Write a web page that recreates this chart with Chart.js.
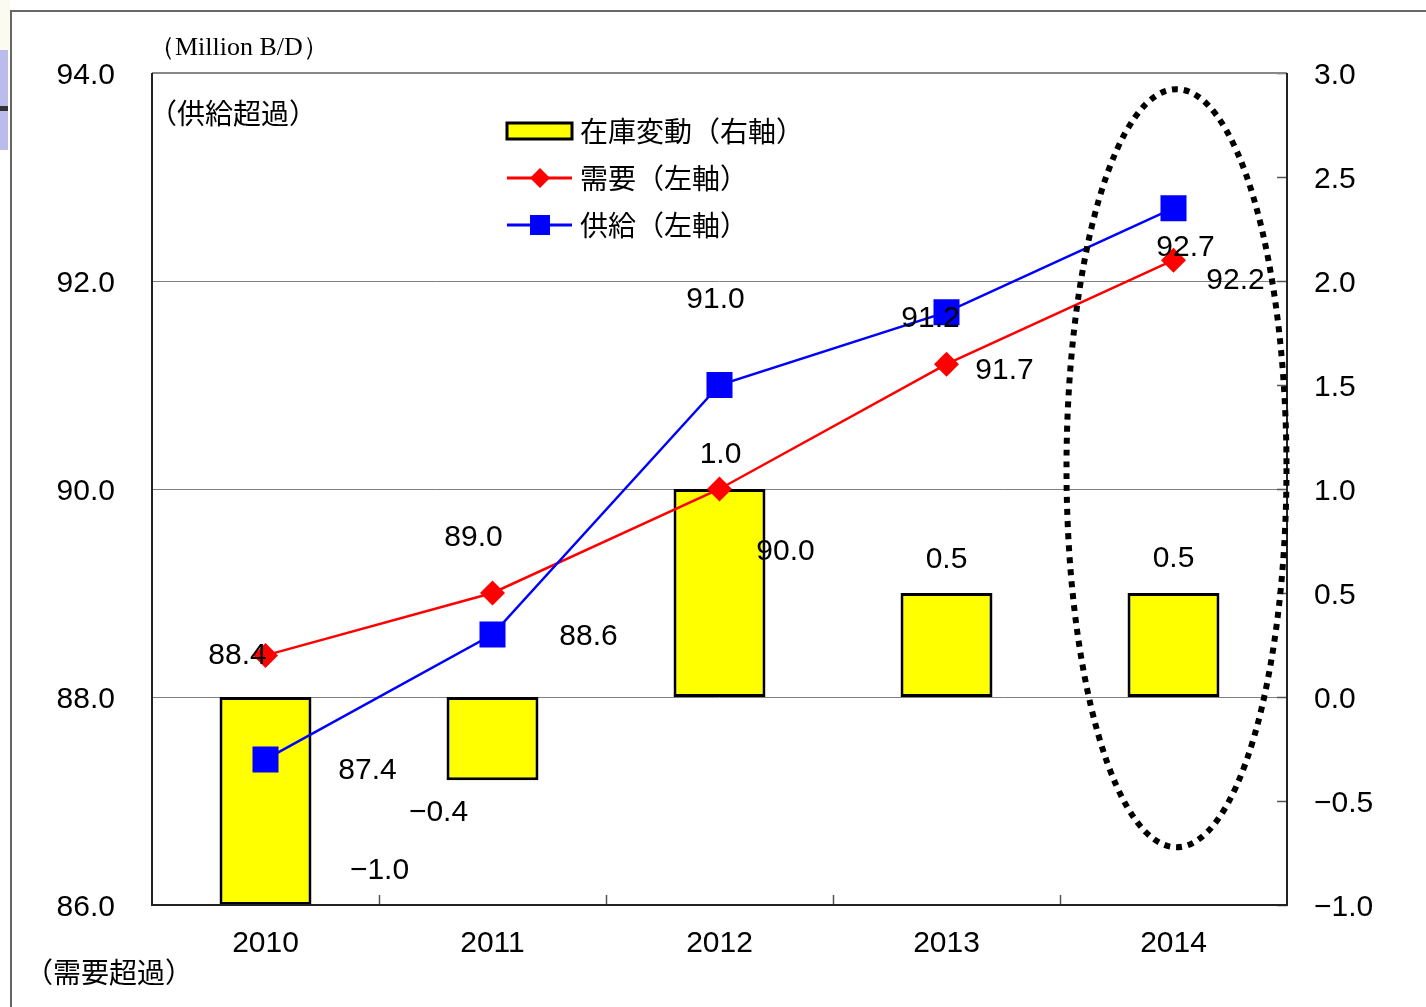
<!DOCTYPE html>
<html>
<head>
<meta charset="utf-8">
<script src="https://cdn.jsdelivr.net/npm/chart.js@4.4.1/dist/chart.umd.min.js"></script>
<style>
  html, body { margin: 0; padding: 0; background: #fff; }
  #wrap { width: 1426px; height: 1007px; }
</style>
</head>
<body>
<div id="wrap"><canvas id="balanceChart" width="1426" height="1007"></canvas></div>
<script>
// world oil supply / demand balance, 2010-2014
const years = ['2010', '2011', '2012', '2013', '2014'];
const stockChange = [-1.0, -0.4, 1.0, 0.5, 0.5];   // right axis
const demand = [88.4, 89.0, 90.0, 91.2, 92.2];     // left axis
const supply = [87.4, 88.6, 91.0, 91.7, 92.7];     // left axis
const leftTicks = [86, 88, 90, 92, 94];
const rightTicks = [-1.0, -0.5, 0, 0.5, 1.0, 1.5, 2.0, 2.5, 3.0];

// value label offsets (px) from each point / bar end
const stockLabelOff = [[114, -37], [-54, 30], [1, -37], [0, -36], [0, -37]];
const demandLabelOff = [[-28, -3], [-19, -58], [66, 60], [-16, -48], [62, 18]];
const supplyLabelOff = [[102, 8], [96, -1], [-4, -88], [58, 56], [12, 37]];

const NUM = '"Liberation Sans", Arial, sans-serif';
const JP = '"Noto Sans CJK JP", "Noto Sans", sans-serif';

const fmt = v => (v < 0 ? '\u2212' : '') + Math.abs(v).toFixed(1);

const decorations = {
  id: 'decorations',
  beforeDraw(chart) {
    const ctx = chart.ctx;
    ctx.save();
    ctx.fillStyle = '#fff';
    ctx.fillRect(0, 0, chart.width, chart.height);
    ctx.fillStyle = '#fbfbf2';
    ctx.fillRect(0, 0, 10, 50);
    ctx.fillStyle = '#bcbcec';
    ctx.fillRect(0, 50, 8, 100);
    ctx.fillStyle = '#333';
    ctx.fillRect(0, 106, 8, 5);
    ctx.strokeStyle = '#666';
    ctx.lineWidth = 2;
    ctx.beginPath();
    ctx.moveTo(11, chart.height);
    ctx.lineTo(11, 11);
    ctx.lineTo(chart.width, 11);
    ctx.stroke();

    // free text
    ctx.fillStyle = '#000';
    ctx.textBaseline = 'middle';
    ctx.textAlign = 'left';
    ctx.font = '26px "Liberation Serif", serif';
    ctx.fillText('（Million B/D）', 149, 48);
    ctx.font = '28px ' + JP;
    ctx.fillText('（供給超過）', 149, 113);
    ctx.fillText('（需要超過）', 25, 972);
    ctx.restore();
  },
  afterDatasetsDraw(chart) {
    const ctx = chart.ctx;
    const area = chart.chartArea;
    const x = chart.scales.x;
    const yR = chart.scales.yR;
    ctx.save();

    // inward tick marks on right and bottom axes
    ctx.strokeStyle = '#555';
    ctx.lineWidth = 1.5;
    ctx.beginPath();
    rightTicks.forEach(v => {
      const py = Math.round(yR.getPixelForValue(v)) + 0.5;
      ctx.moveTo(area.right - 10, py);
      ctx.lineTo(area.right, py);
    });
    for (let i = 1; i < years.length; i++) {
      const px = Math.round((x.getPixelForValue(i - 1) + x.getPixelForValue(i)) / 2) + 0.5;
      ctx.moveTo(px, area.bottom);
      ctx.lineTo(px, area.bottom - 10);
    }
    ctx.stroke();

    // plot frame
    ctx.lineWidth = 2;
    ctx.strokeStyle = '#888';
    ctx.beginPath();
    ctx.moveTo(area.left, area.top);
    ctx.lineTo(area.right, area.top);
    ctx.stroke();
    ctx.strokeStyle = '#222';
    ctx.beginPath();
    ctx.moveTo(area.left, area.top);
    ctx.lineTo(area.left, area.bottom);
    ctx.lineTo(area.right, area.bottom);
    ctx.lineTo(area.right, area.top);
    ctx.stroke();

    // dotted ring around the last year
    const cx = x.getPixelForValue(years.length - 1) + 3;
    const cy = yR.getPixelForValue(1.1);
    ctx.strokeStyle = '#000';
    ctx.lineWidth = 6;
    ctx.setLineDash([6, 6]);
    ctx.beginPath();
    ctx.ellipse(cx, cy, 110, 379, 0, 0, Math.PI * 2);
    ctx.stroke();
    ctx.setLineDash([]);

    // value labels
    const offs = [stockLabelOff, demandLabelOff, supplyLabelOff];
    ctx.fillStyle = '#000';
    ctx.font = '30px ' + NUM;
    ctx.textAlign = 'center';
    ctx.textBaseline = 'middle';
    chart.data.datasets.forEach((ds, di) => {
      const meta = chart.getDatasetMeta(di);
      meta.data.forEach((el, j) => {
        ctx.fillText(fmt(ds.data[j]), el.x + offs[di][j][0], el.y + offs[di][j][1] + 3);
      });
    });

    // legend
    const lx = 507, ly = 131, gap = 47;
    ctx.textAlign = 'left';
    ctx.font = '28px ' + JP;
    chart.data.datasets.forEach((ds, di) => {
      const yy = ly + gap * di;
      if (ds.type === 'bar') {
        ctx.fillStyle = ds.backgroundColor;
        ctx.fillRect(lx, yy - 8, 65, 16);
        ctx.strokeStyle = '#000';
        ctx.lineWidth = 3;
        ctx.strokeRect(lx, yy - 8, 65, 16);
      } else {
        ctx.strokeStyle = ds.borderColor;
        ctx.lineWidth = 3;
        ctx.beginPath();
        ctx.moveTo(lx, yy);
        ctx.lineTo(lx + 65, yy);
        ctx.stroke();
        ctx.fillStyle = ds.backgroundColor;
        ctx.beginPath();
        if (ds.pointStyle === 'rectRot') {
          ctx.moveTo(lx + 33, yy - 10);
          ctx.lineTo(lx + 43, yy);
          ctx.lineTo(lx + 33, yy + 10);
          ctx.lineTo(lx + 23, yy);
        } else {
          ctx.rect(lx + 23, yy - 10, 20, 20);
        }
        ctx.fill();
      }
      ctx.fillStyle = '#000';
      ctx.fillText(ds.label, lx + 73, yy);
    });
    ctx.restore();
  }
};

new Chart(document.getElementById('balanceChart'), {
  type: 'bar',
  data: {
    labels: years,
    datasets: [{
      type: 'bar',
      label: '在庫変動（右軸）',
      data: stockChange,
      yAxisID: 'yR',
      backgroundColor: '#ffff00',
      borderColor: '#000',
      borderWidth: 3,
      borderSkipped: false,
      barPercentage: 0.405,
      categoryPercentage: 1,
      order: 3
    }, {
      type: 'line',
      label: '需要（左軸）',
      data: demand,
      yAxisID: 'yL',
      borderColor: '#ff0000',
      backgroundColor: '#ff0000',
      borderWidth: 2.5,
      pointStyle: 'rectRot',
      pointRadius: 12.5,
      pointBorderWidth: 0,
      tension: 0,
      order: 2
    }, {
      type: 'line',
      label: '供給（左軸）',
      data: supply,
      yAxisID: 'yL',
      borderColor: '#0000ff',
      backgroundColor: '#0000ff',
      borderWidth: 2.5,
      pointStyle: 'rect',
      pointRadius: 18.4,
      pointBorderWidth: 0,
      tension: 0,
      order: 1
    }]
  },
  options: {
    responsive: false,
    animation: false,
    devicePixelRatio: 1,
    layout: { padding: { top: 73, left: 0, right: 0, bottom: 0 } },
    plugins: {
      legend: { display: false },
      tooltip: { enabled: false }
    },
    scales: {
      x: {
        offset: true,
        grid: { display: false, drawTicks: false },
        border: { display: false },
        ticks: { color: '#000', font: { family: NUM, size: 30 }, padding: 21 },
        afterFit: s => { s.height = 102; }
      },
      yL: {
        position: 'left',
        min: 86,
        max: 94,
        afterBuildTicks: s => { s.ticks = leftTicks.map(v => ({ value: v })); },
        grid: { color: '#808080', lineWidth: 1, drawTicks: false },
        border: { display: false },
        ticks: { color: '#000', font: { family: NUM, size: 30 }, padding: 37, labelOffset: 3, callback: v => fmt(v) },
        afterFit: s => { s.width = 152; }
      },
      yR: {
        position: 'right',
        min: -1,
        max: 3,
        afterBuildTicks: s => { s.ticks = rightTicks.map(v => ({ value: v })); },
        grid: { display: false, drawTicks: false },
        border: { display: false },
        ticks: { color: '#000', font: { family: NUM, size: 30 }, padding: 27, labelOffset: 3, callback: v => fmt(v) },
        afterFit: s => { s.width = 139; }
      }
    }
  },
  plugins: [decorations]
});
</script>
</body>
</html>
